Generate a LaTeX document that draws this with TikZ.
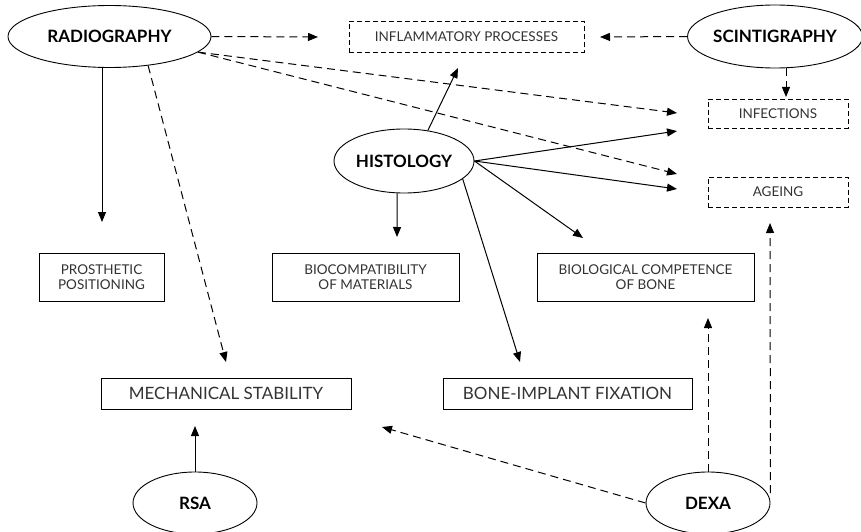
\documentclass[tikz,border=0pt]{standalone}
\usepackage{fontspec}
\setmainfont{Lato}
\usetikzlibrary{arrows.meta,shapes.geometric}
\begin{document}
\begin{tikzpicture}[x=1pt,y=-1pt,
  oval/.style={draw,ellipse,line width=0.9pt,inner sep=0pt,font=\bfseries\fontsize{17}{19}\selectfont},
  box/.style={draw,rectangle,line width=0.9pt,inner sep=0pt,align=center,font=\fontsize{13.5}{14.5}\selectfont,text=black!80},
  bigbox/.style={box,font=\fontsize{17}{19}\selectfont},
  dbox/.style={box,dash pattern=on 5pt off 3pt},
  sarr/.style={line width=1pt,-{Triangle[length=10pt,width=8pt]}},
  darr/.style={sarr,dash pattern=on 8pt off 5pt},
]
\useasboundingbox (0,0) rectangle (861,532);

% ellipses
\node[oval,minimum width=203pt,minimum height=62pt] (rad) at (109.5,36.5) {RADIOGRAPHY};
\node[oval,minimum width=172pt,minimum height=63pt] (scint) at (775,36.5) {SCINTIGRAPHY};
\node[oval,minimum width=140pt,minimum height=64pt] (hist) at (404,161) {HISTOLOGY};
\node[oval,minimum width=124pt,minimum height=62pt] (rsa) at (195,503) {RSA};
\node[oval,minimum width=124pt,minimum height=62pt] (dexa) at (708,503) {DEXA};

% boxes
\node[dbox,minimum width=235pt,minimum height=31pt] (infl) at (466.5,37) {INFLAMMATORY PROCESSES};
\node[dbox,minimum width=140pt,minimum height=29pt] (inf) at (778,113.5) {INFECTIONS};
\node[dbox,minimum width=140pt,minimum height=30pt] (age) at (778,192) {AGEING};
\node[box,minimum width=125pt,minimum height=48pt] (pros) at (101.5,277) {PROSTHETIC\\POSITIONING};
\node[box,minimum width=187pt,minimum height=48pt] (bioc) at (365.5,277) {BIOCOMPATIBILITY\\OF MATERIALS};
\node[box,minimum width=217pt,minimum height=48pt] (biol) at (645.5,277) {BIOLOGICAL COMPETENCE\\OF BONE};
\node[bigbox,minimum width=250pt,minimum height=31pt] (mech) at (226,393.5) {MECHANICAL STABILITY};
\node[bigbox,minimum width=249pt,minimum height=31pt] (bif) at (567.5,393.5) {BONE-IMPLANT FIXATION};

% arrow tips (free ends)
\coordinate (tInflL) at (318,37);
\coordinate (tInflR) at (600,37);
\coordinate (tInf) at (786,97);
\coordinate (tInfA) at (677,113);
\coordinate (tInfB) at (677,131);
\coordinate (tAgeA) at (677,174);
\coordinate (tAgeB) at (677,189);
\coordinate (tInflH) at (458,68);
\coordinate (tBioc) at (397,237);
\coordinate (tBiol) at (583,238);
\coordinate (tBif) at (520,362);
\coordinate (tPros) at (102,222);
\coordinate (tMechR) at (226,362);
\coordinate (tMechRSA) at (195,426);
\coordinate (tMechD) at (382,427);
\coordinate (tBiolD) at (708,318);
\coordinate (tAgeD) at (770,223);

% radiography
\draw[darr] (rad.east) -- (tInflL);
\draw[darr] (rad.-10) -- (tInfA);
\draw[darr] (rad.-10) -- (tAgeA);
\draw[sarr] (rad.south -| tPros) -- (tPros);
\draw[darr] (rad.-37) -- (tMechR);

% scintigraphy
\draw[darr] (scint.west) -- (tInflR);
\draw[darr] (scint.south -| tInf) -- (tInf);

% histology
\draw[sarr] (hist.52) -- (tInflH);
\draw[sarr] (hist.east) -- (tInfB);
\draw[sarr] (hist.east) -- (tAgeB);
\draw[sarr] (hist.east) -- (tBiol);
\draw[sarr] (hist.-102) -- (tBioc);
\draw[sarr] (hist.-17) -- (tBif);

% rsa, dexa
\draw[sarr] (rsa.north) -- (tMechRSA);
\draw[darr] (dexa.west) -- (tMechD);
\draw[darr] (dexa.north) -- (tBiolD);
\draw[darr] (dexa.east |- 0,493) -- (tAgeD);
\end{tikzpicture}
\end{document}
